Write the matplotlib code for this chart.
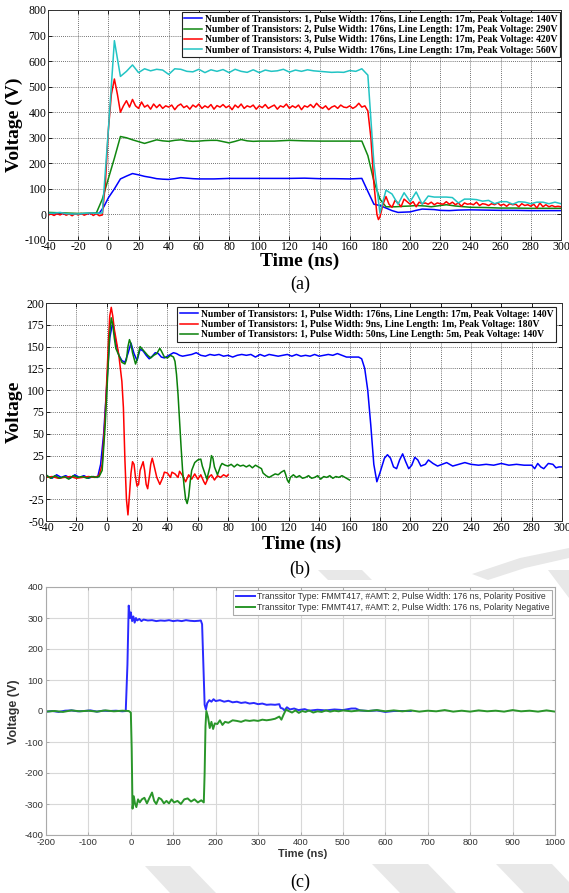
import numpy as np
import matplotlib.pyplot as plt
from matplotlib.patches import Polygon

plt.rcParams["axes.unicode_minus"] = False

W, H = 569, 893

# ---------------- panel (a): number of transistors ----------------
a_blue = [(-40, 3), (-30, 3), (-20, 2), (-10, 4), (-6, 5), (-3, 30), (0, 65), (4, 100),
          (8, 139), (12, 150), (16, 160), (20, 155), (24, 149), (28, 145), (32, 140),
          (36, 138), (40, 137), (44, 140), (48, 144), (52, 142), (56, 140), (60, 139),
          (70, 139), (80, 141), (90, 141), (100, 141), (110, 141), (120, 141), (130, 142),
          (140, 140), (150, 140), (160, 139), (168, 141), (172, 90), (176, 40), (180, 35),
          (184, 25), (188, 15), (192, 8), (196, 9), (200, 10), (204, 16), (208, 21),
          (212, 20), (216, 19), (220, 16), (226, 15), (232, 17), (240, 18), (250, 17),
          (260, 16), (270, 16), (280, 15), (290, 15), (300, 15)]

a_green = [(-40, 8), (-30, 6), (-20, 4), (-10, 5), (-8, 5), (-4, 60), (0, 140), (4, 220),
           (8, 305), (12, 300), (16, 292), (20, 285), (24, 278), (28, 285), (32, 292),
           (36, 288), (40, 286), (44, 290), (48, 292), (52, 288), (56, 286), (60, 287),
           (64, 289), (68, 290), (72, 290), (76, 285), (80, 280), (84, 286), (88, 293),
           (92, 288), (96, 286), (100, 287), (110, 287), (120, 290), (130, 288), (140, 287),
           (150, 287), (160, 287), (168, 287), (172, 230), (176, 130), (180, 60), (184, 30),
           (190, 30), (196, 32), (200, 33), (204, 35), (210, 33), (214, 30), (220, 35),
           (224, 38), (230, 33), (236, 30), (240, 28), (250, 27), (260, 25), (270, 25),
           (280, 24), (290, 24), (300, 24)]

a_red = [(-40, -3), (-38, 2), (-36, -4), (-34, 3), (-32, -2), (-30, 5), (-28, -3), (-26, 2),
         (-24, -5), (-22, 3), (-20, -2), (-18, 4), (-16, -3), (-14, 2), (-12, 6), (-10, -4),
         (-8, 3), (-6, -5), (-4, -2), (-2, 120), (0, 330), (2, 470), (4, 530), (6, 470),
         (8, 400), (10, 425), (12, 445), (14, 420), (16, 450), (18, 425), (20, 415),
         (22, 440), (24, 420), (26, 428), (28, 412), (30, 432), (32, 418), (34, 430),
         (36, 415), (38, 425), (40, 420), (42, 428), (44, 410), (46, 425), (48, 432),
         (50, 418), (52, 425), (54, 412), (56, 428), (58, 420), (60, 432), (62, 415),
         (64, 425), (66, 418), (68, 430), (70, 412), (72, 426), (74, 420), (76, 430),
         (78, 418), (80, 425), (82, 410), (84, 428), (86, 418), (88, 432), (90, 415),
         (92, 425), (94, 420), (96, 428), (98, 412), (100, 425), (102, 418), (104, 430),
         (106, 415), (108, 422), (110, 428), (112, 412), (114, 425), (116, 420), (118, 432),
         (120, 415), (122, 425), (124, 418), (126, 428), (128, 410), (130, 425), (132, 420),
         (134, 430), (136, 418), (138, 435), (140, 422), (142, 415), (144, 425), (146, 410),
         (148, 420), (150, 425), (152, 415), (154, 428), (156, 420), (158, 418), (160, 425),
         (162, 415), (164, 422), (166, 435), (168, 420), (170, 425), (172, 405), (174, 300),
         (176, 120), (178, 0), (179, -20), (180, -10), (182, 40), (184, 70), (186, 40),
         (188, 28), (190, 55), (192, 45), (194, 30), (196, 60), (198, 50), (200, 40),
         (202, 50), (204, 30), (206, 48), (208, 42), (210, 45), (212, 40), (214, 48),
         (216, 38), (218, 45), (220, 42), (222, 40), (224, 50), (226, 40), (228, 48),
         (230, 38), (232, 45), (234, 32), (236, 45), (238, 40), (240, 42), (242, 38),
         (244, 48), (246, 35), (248, 42), (250, 40), (252, 35), (254, 42), (256, 38),
         (258, 45), (260, 35), (262, 40), (264, 32), (266, 42), (268, 38), (270, 40),
         (272, 30), (274, 42), (276, 35), (278, 38), (280, 32), (282, 40), (284, 25),
         (286, 45), (288, 30), (290, 38), (292, 30), (294, 35), (296, 30), (298, 32),
         (300, 30)]

a_cyan = [(-40, 5), (-36, 5), (-32, 8), (-28, 3), (-24, 2), (-20, 2), (-16, 4), (-12, 6),
          (-8, 4), (-4, 6), (0, 330), (4, 680), (8, 540), (12, 560), (16, 585), (20, 555),
          (24, 570), (28, 562), (32, 568), (36, 565), (40, 548), (44, 570), (48, 568),
          (52, 560), (56, 558), (60, 568), (64, 555), (68, 566), (72, 560), (76, 567),
          (80, 555), (84, 568), (88, 560), (92, 556), (96, 566), (100, 555), (104, 565),
          (108, 560), (112, 562), (116, 568), (120, 557), (124, 565), (128, 560), (132, 566),
          (136, 562), (140, 560), (144, 558), (148, 556), (152, 557), (156, 556), (160, 563),
          (164, 560), (168, 570), (172, 545), (176, 200), (180, 5), (184, 95), (188, 80),
          (192, 40), (196, 85), (200, 50), (204, 88), (208, 40), (212, 72), (216, 68),
          (220, 68), (224, 68), (228, 66), (232, 45), (236, 60), (240, 60), (244, 58),
          (248, 52), (252, 55), (256, 42), (260, 50), (264, 50), (268, 40), (272, 50),
          (276, 48), (280, 42), (284, 48), (288, 48), (292, 42), (296, 48), (300, 42)]

a_labels = ["Number of Transistors: 1, Pulse Width: 176ns, Line Length: 17m, Peak Voltage: 140V",
            "Number of Transistors: 2, Pulse Width: 176ns, Line Length: 17m, Peak Voltage: 290V",
            "Number of Transistors: 3, Pulse Width: 176ns, Line Length: 17m, Peak Voltage: 420V",
            "Number of Transistors: 4, Pulse Width: 176ns, Line Length: 17m, Peak Voltage: 560V"]

# ---------------- panel (b): pulse width / line length ----------------
b_blue = [(-40, 2), (-36, -1), (-33, 3), (-30, 0), (-27, 2), (-24, -1), (-21, 3), (-18, 0),
          (-15, 2), (-12, -1), (-9, 1), (-6, 0), (-4, 15), (-2, 50), (0, 105), (2, 160),
          (4, 178), (6, 155), (8, 140), (10, 134), (12, 132), (14, 142), (16, 154), (18, 142),
          (20, 134), (22, 147), (24, 145), (26, 140), (28, 136), (30, 139), (32, 143),
          (34, 142), (36, 138), (38, 137), (40, 139), (42, 141), (44, 143), (46, 142),
          (48, 140), (50, 139), (53, 140), (56, 141), (59, 143), (62, 140), (65, 139),
          (68, 141), (71, 140), (74, 141), (77, 139), (80, 140), (83, 138), (86, 140),
          (89, 141), (92, 140), (95, 141), (98, 138), (101, 141), (104, 139), (107, 141),
          (110, 140), (113, 139), (116, 140), (119, 141), (122, 139), (125, 141), (128, 139),
          (131, 140), (134, 139), (137, 141), (140, 139), (143, 140), (146, 141), (149, 140),
          (152, 142), (155, 140), (158, 138), (162, 138), (166, 138), (168, 136), (170, 125),
          (172, 100), (174, 60), (176, 15), (178, -5), (180, 5), (183, 22), (185, 26),
          (187, 22), (189, 12), (191, 10), (193, 20), (195, 27), (197, 18), (199, 10),
          (201, 14), (203, 23), (205, 20), (207, 13), (210, 15), (212, 20), (215, 16),
          (218, 13), (221, 15), (224, 17), (228, 13), (232, 15), (236, 17), (240, 15),
          (245, 14), (250, 15), (255, 14), (260, 16), (265, 14), (270, 15), (275, 14),
          (280, 14), (282, 10), (284, 16), (286, 12), (288, 10), (291, 16), (294, 15),
          (296, 11), (298, 12), (300, 12)]

b_red = [(-40, 0), (-36, 1), (-32, -1), (-28, 0), (-24, 1), (-20, -1), (-16, 0), (-12, 1),
         (-8, 0), (-5, 2), (-3, 15), (-1, 70), (1, 150), (2, 185), (3, 195), (4, 185),
         (5, 170), (6, 160), (8, 140), (10, 110), (11, 80), (12, 20), (13, -25), (14, -43),
         (15, -20), (16, 5), (17, 18), (18, 15), (19, 0), (20, -10), (21, -8), (22, 8),
         (24, 18), (25, 8), (26, -8), (27, -13), (28, 0), (29, 15), (30, 22), (31, 15),
         (33, 0), (35, -8), (37, 0), (38, 6), (40, 5), (42, 0), (43, 6), (45, 4), (47, 0),
         (48, 7), (50, 2), (52, -5), (54, 3), (56, -2), (58, 4), (60, -2), (62, 3), (64, -5),
         (65, -8), (67, 0), (69, 3), (71, -3), (73, 2), (75, 0), (77, 3), (79, 1), (80, 3)]

b_green = [(-40, 3), (-37, -1), (-34, 2), (-31, -1), (-28, 1), (-25, -2), (-22, 2), (-19, 0),
           (-16, 1), (-13, -1), (-10, 1), (-7, 0), (-5, 1), (-3, 8), (-1, 60), (1, 130),
           (2, 165), (3, 183), (4, 175), (5, 160), (6, 148), (8, 140), (10, 132), (12, 130),
           (13, 135), (14, 150), (15, 158), (16, 153), (17, 143), (19, 130), (20, 135),
           (22, 150), (23, 148), (25, 144), (27, 140), (29, 137), (31, 140), (33, 142),
           (35, 148), (36, 145), (38, 138), (40, 137), (42, 140), (44, 138), (45, 133),
           (46, 118), (47, 95), (48, 65), (49, 35), (50, 8), (51, -10), (52, -25), (53, -30),
           (54, -22), (55, -5), (56, 8), (58, 17), (60, 20), (62, 21), (63, 13), (65, 3),
           (66, -2), (68, 12), (69, 25), (70, 22), (71, 12), (73, 3), (75, 13), (76, 16),
           (78, 14), (80, 13), (82, 15), (84, 12), (86, 15), (88, 13), (90, 14), (92, 12),
           (94, 14), (96, 11), (98, 14), (100, 12), (102, 10), (103, 5), (105, 2), (107, 0),
           (109, 2), (111, 4), (113, 3), (115, 6), (117, 8), (118, 3), (119, -3), (120, -6),
           (121, 0), (123, 3), (125, 0), (127, 2), (129, -1), (131, 0), (133, 2), (135, -1),
           (137, 0), (139, 2), (141, -2), (143, 1), (145, 0), (147, 2), (149, -1), (151, 1),
           (153, 0), (155, 2), (157, 0), (159, -2), (160, -3)]

b_labels = ["Number of Transistors: 1, Pulse Width: 176ns, Line Length: 17m, Peak Voltage: 140V",
            "Number of Transistors: 1, Pulse Width: 9ns, Line Length: 1m, Peak Voltage: 180V",
            "Number of Transistors: 1, Pulse Width: 50ns, Line Length: 5m, Peak Voltage: 140V"]

# ---------------- panel (c): polarity ----------------
c_pos = [(-200, -2), (-185, 0), (-170, -3), (-155, 1), (-140, 2), (-125, -1), (-110, 0),
         (-95, 2), (-80, -2), (-65, 1), (-50, 0), (-35, 1), (-20, -1), (-12, 0), (-8, 150),
         (-5, 340), (-2, 300), (0, 318), (3, 290), (6, 305), (9, 285), (12, 300), (15, 292),
         (20, 297), (25, 290), (30, 295), (40, 292), (50, 293), (60, 290), (70, 292),
         (80, 291), (90, 293), (100, 290), (110, 292), (120, 290), (130, 293), (140, 291),
         (150, 290), (160, 291), (165, 292), (168, 280), (171, 150), (174, 20), (177, 5),
         (180, 25), (185, 35), (190, 30), (195, 38), (200, 32), (210, 35), (220, 30),
         (230, 33), (240, 28), (250, 30), (260, 26), (270, 28), (280, 24), (290, 26),
         (300, 22), (310, 24), (320, 20), (330, 21), (340, 20), (350, 22), (353, 10),
         (358, 8), (362, 2), (368, 12), (375, 5), (385, 8), (395, 3), (410, 6), (420, 1),
         (440, 4), (460, 2), (480, 5), (500, 3), (520, 8), (530, 8), (540, 2), (560, 0),
         (580, 2), (600, -3), (620, 0), (640, 0), (660, 0)]

c_neg = [(-200, -2), (-180, 0), (-160, -3), (-140, 2), (-120, -1), (-100, 1), (-80, -2),
         (-60, 2), (-40, -1), (-20, 1), (-5, 0), (0, -5), (2, -120), (4, -315), (7, -275),
         (10, -300), (13, -310), (17, -285), (21, -295), (26, -285), (32, -280), (38, -298),
         (44, -280), (50, -263), (55, -290), (60, -300), (66, -280), (72, -285), (78, -298),
         (84, -290), (90, -298), (96, -285), (102, -295), (110, -290), (118, -300),
         (126, -285), (134, -282), (142, -292), (150, -285), (158, -295), (166, -288),
         (172, -295), (174, -200), (176, -50), (178, 0), (182, -20), (186, -55), (190, -35),
         (194, -58), (198, -40), (204, -42), (210, -30), (216, -45), (222, -35), (230, -38),
         (240, -30), (250, -32), (260, -35), (270, -30), (280, -32), (290, -30), (300, -32),
         (310, -28), (320, -30), (330, -28), (340, -25), (350, -18), (355, -28), (360, -12),
         (366, 5), (372, 0), (380, -5), (388, 2), (396, -6), (404, 0), (412, -3), (420, 2),
         (430, -5), (440, -1), (450, -3), (460, 2), (470, -2), (480, 1), (490, -1), (500, 2),
         (520, -1), (540, 2), (560, 0), (580, 3), (600, -1), (620, 2), (640, -1), (660, 2),
         (680, -2), (700, 1), (720, -1), (740, 3), (760, -2), (780, 1), (800, -2), (820, 2),
         (840, -1), (860, 1), (880, -2), (900, 3), (920, -1), (940, 1), (960, -2), (980, 2),
         (1000, -2)]

c_labels = ["Transsitor Type: FMMT417, #AMT: 2, Pulse Width: 176 ns, Polarity Positive",
            "Transsitor Type: FMMT417, #AMT: 2, Pulse Width: 176 ns, Polarity Negative"]

SERIF = "Liberation Serif"
SANS = "Liberation Sans"


def rect(left, top, right, bottom):
    return [left / W, 1 - bottom / H, (right - left) / W, (bottom - top) / H]


def fxy(x, y):
    return x / W, 1 - y / H


def draw(ax, pts, color, lw, label):
    t, v = zip(*pts)
    ax.plot(t, v, color=color, lw=lw, label=label)


def matlab_axes(ax, xlim, ylim, xstep, ystep):
    ax.set_xlim(*xlim)
    ax.set_ylim(*ylim)
    ax.set_xticks(np.arange(xlim[0], xlim[1] + 1, xstep))
    ax.set_yticks(np.arange(ylim[0], ylim[1] + 1, ystep))
    ax.grid(True, ls=(0, (1, 1.5)), color="#444444", lw=0.6)
    ax.tick_params(direction="in", length=3, width=0.6, top=True, right=True,
                   labelsize=8.5, pad=1)
    for lab in ax.get_xticklabels() + ax.get_yticklabels():
        lab.set_fontfamily(SERIF)
    for sp in ax.spines.values():
        sp.set_linewidth(0.7)
        sp.set_color("#333333")


def serif_legend(ax, anchor):
    leg = ax.legend(loc="upper right", bbox_to_anchor=anchor, fancybox=False,
                    prop={"family": SERIF, "weight": "bold", "size": 6.9},
                    handlelength=1.9, handletextpad=0.3, borderpad=0.25,
                    labelspacing=0.15, borderaxespad=0.1)
    leg.get_frame().set_edgecolor("#222222")
    leg.get_frame().set_linewidth(0.8)
    leg.get_frame().set_alpha(1)


def main():
    fig = plt.figure(figsize=(W / 100, H / 100), dpi=100)

    # light watermark stripes
    shade = "#e8e8e8"
    stripes = [
        [(145, 866), (190, 866), (216, 893), (170, 893)],
        [(372, 864), (428, 864), (456, 893), (400, 893)],
        [(496, 864), (552, 864), (569, 882), (569, 893), (524, 893)],
        [(318, 570), (362, 570), (372, 580), (328, 580)],
        [(548, 570), (569, 570), (569, 598)],
        [(472, 574), (520, 558), (569, 548), (569, 558), (525, 568), (488, 580)],
    ]
    for poly in stripes:
        fig.add_artist(Polygon([fxy(x, y) for x, y in poly], closed=True,
                               transform=fig.transFigure, fc=shade, ec="none", zorder=0))

    # ---- (a)
    ax = fig.add_axes(rect(48, 10, 561, 240))
    draw(ax, a_blue, "#0000ff", 1.1, a_labels[0])
    draw(ax, a_green, "#118811", 1.1, a_labels[1])
    draw(ax, a_red, "#ff0000", 1.1, a_labels[2])
    draw(ax, a_cyan, "#22c4c4", 1.1, a_labels[3])
    matlab_axes(ax, (-40, 300), (-100, 800), 20, 100)
    serif_legend(ax, (1.0, 0.995))
    fig.text(*fxy(300, 261), "Time (ns)", ha="center", va="center",
             family=SERIF, weight="bold", size=14)
    fig.text(*fxy(14, 125), "Voltage (V)", ha="center", va="center", rotation=90,
             family=SERIF, weight="bold", size=14)
    fig.text(*fxy(300, 284), "(a)", ha="center", va="center", family=SERIF, size=13)

    # ---- (b)
    ax = fig.add_axes(rect(46, 303, 562, 521))
    draw(ax, b_blue, "#0000ff", 1.1, b_labels[0])
    draw(ax, b_red, "#ff0000", 1.1, b_labels[1])
    draw(ax, b_green, "#0a800a", 1.1, b_labels[2])
    matlab_axes(ax, (-40, 300), (-50, 200), 20, 25)
    serif_legend(ax, (0.99, 0.985))
    fig.text(*fxy(302, 544), "Time (ns)", ha="center", va="center",
             family=SERIF, weight="bold", size=14)
    fig.text(*fxy(14, 412), "Voltage", ha="center", va="center", rotation=90,
             family=SERIF, weight="bold", size=14)
    fig.text(*fxy(300, 569), "(b)", ha="center", va="center", family=SERIF, size=13)

    # ---- (c)
    ax = fig.add_axes(rect(46, 587, 555, 835))
    draw(ax, c_pos, "#2a2aff", 1.4, c_labels[0])
    draw(ax, c_neg, "#2a962a", 1.4, c_labels[1])
    ax.set_xlim(-200, 1000)
    ax.set_ylim(-400, 400)
    ax.set_xticks(np.arange(-200, 1001, 100))
    ax.set_yticks(np.arange(-400, 401, 100))
    ax.grid(True, color="#d8d8d8", lw=0.8)
    ax.tick_params(direction="in", length=2, width=0.5, top=True, right=True,
                   labelsize=6.8, labelcolor="#333333", color="#999999", pad=2)
    for lab in ax.get_xticklabels() + ax.get_yticklabels():
        lab.set_fontfamily(SANS)
    for sp in ax.spines.values():
        sp.set_linewidth(0.8)
        sp.set_color("#aaaaaa")
    leg = ax.legend(loc="upper right", bbox_to_anchor=(1.0, 1.0), fancybox=False,
                    prop={"family": SANS, "size": 6.2},
                    handlelength=2.2, handletextpad=0.3, borderpad=0.3,
                    labelspacing=0.25, borderaxespad=0.3)
    leg.get_frame().set_edgecolor("#aaaaaa")
    leg.get_frame().set_linewidth(0.8)
    leg.get_frame().set_alpha(1)
    for txt in leg.get_texts():
        txt.set_color("#333333")
    fig.text(*fxy(303, 854), "Time (ns)", ha="center", va="center",
             family=SANS, weight="bold", size=8, color="#333333")
    fig.text(*fxy(14, 712), "Voltage (V)", ha="center", va="center", rotation=90,
             family=SANS, weight="bold", size=9, color="#333333")
    fig.text(*fxy(300, 882), "(c)", ha="center", va="center", family=SERIF, size=13)

    fig.savefig("out.png", dpi=100)


if __name__ == "__main__":
    main()
